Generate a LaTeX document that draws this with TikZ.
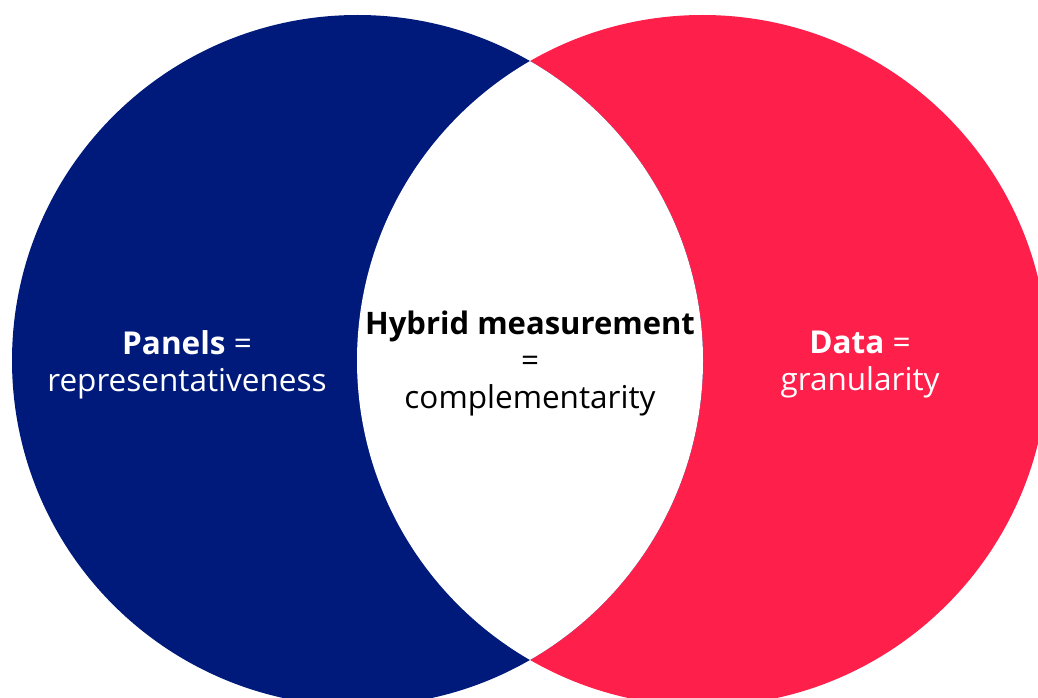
\documentclass[tikz,border=0pt]{standalone}
\usepackage{fontspec}
\setmainfont{Open Sans}
\usetikzlibrary{positioning}

\definecolor{panelblue}{HTML}{001A7B}
\definecolor{datared}{HTML}{FF1F4B}

\tikzset{
  venn text/.style={align=center, font=\fontsize{31.5}{37}\selectfont},
}

\begin{document}
\begin{tikzpicture}[x=1pt,y=-1pt]
\useasboundingbox (0,0) rectangle (1038,698);
% the two sets
\fill[datared] (702.5,360.5) circle (345.5pt);
\fill[panelblue] (357.5,360.5) circle (345.5pt);
% overlap
\begin{scope}
\clip (357.5,360.5) circle (345.5pt);
\fill[white] (702.5,360.5) circle (345.5pt);
\end{scope}
% labels
\node[venn text, white] (panels) at (187,365) {\textbf{Panels} =\\representativeness};
\node[venn text, black] (hybrid) at (530,364) {\textbf{\fontsize{31}{37}\selectfont Hybrid measurement}\\=\\complementarity};
\node[venn text, white] (data) at (860,365) {\textbf{Data} =\\granularity};
\end{tikzpicture}
\end{document}
